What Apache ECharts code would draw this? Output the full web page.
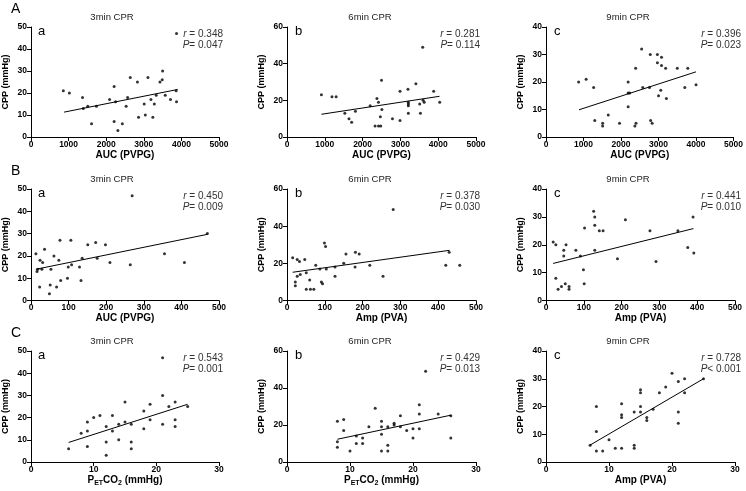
<!DOCTYPE html>
<html><head><meta charset="utf-8">
<script src="https://cdn.jsdelivr.net/npm/echarts/dist/echarts.min.js"></script>
<style>html,body{margin:0;padding:0;background:#fff}#c{width:746px;height:491px}</style>
</head><body><div id="c"></div>
<script>
// ---------- data (x, CPP) ----------
const A_a = [[860,21],[1020,20],[1370,18],[1390,13],[1510,14],[1740,14],[1610,6],[2090,17],[2210,23],[2250,16],[2210,7],[2310,3],[2430,6],[2530,14],[2570,18],[2640,27],[2830,25],[2860,9],[3010,15],[3040,10],[3110,27],[3190,17],[3240,9],[3280,15],[3330,19],[3430,25],[3490,26],[3500,30],[3570,19],[3710,17],[3860,21],[3870,16],[3870,47]];
const A_a_fit = [[880,11.3],[3900,21.6]];
const A_b = [[910,23],[1190,22],[1300,22],[1530,13],[1640,10],[1710,8],[1810,14],[2200,17],[2380,21],[2420,19],[2330,6],[2420,6],[2480,6],[2470,11],[2510,15],[2500,31],[2790,10],[2990,9],[2990,25],[3200,26],[3210,19],[3210,18],[3210,17],[3210,13],[3410,29],[3510,18],[3530,13],[3590,49],[3600,20],[3630,19],[3880,25],[4040,19]];
const A_b_fit = [[910,12.4],[4035,22.2]];
const A_c = [[870,20],[1070,21],[1270,18],[1300,6],[1510,5],[1510,4],[1660,8],[1960,5],[2190,20],[2190,16],[2230,16],[2190,11],[2390,25],[2370,4],[2400,5],[2550,32],[2580,18],[2760,18],[2790,6],[2830,5],[2780,30],[2970,30],[2970,27],[3080,29],[3080,26],[3190,25],[3000,15],[3060,17],[3210,14],[3500,25],[3780,25],[3700,18],[4000,19]];
const A_c_fit = [[880,9.9],[4000,23.7]];
const B_a = [[13,21],[16,13],[18,14],[24,18],[23,6],[31,17],[29,14],[36,23],[49,3],[51,7],[53,14],[61,20],[68,6],[74,18],[77,27],[79,9],[97,10],[99,15],[106,27],[108,16],[129,15],[133,9],[136,19],[151,25],[172,26],[176,19],[198,25],[210,17],[264,16],[269,47],[355,21],[408,17],[469,30]];
const B_a_fit = [[13,14],[470,29.7]];
const B_b = [[15,23],[22,10],[22,8],[27,22],[33,21],[27,13],[35,14],[47,22],[51,15],[51,6],[60,11],[62,6],[71,6],[76,19],[87,17],[91,10],[94,9],[99,31],[102,29],[104,17],[127,18],[127,13],[150,20],[156,25],[181,26],[180,18],[191,25],[219,19],[254,13],[281,49],[420,19],[429,26],[457,19]];
const B_b_fit = [[15,15.2],[430,27]];
const B_c = [[19,21],[26,20],[26,8],[32,4],[41,5],[47,18],[47,16],[51,6],[53,20],[61,5],[61,4],[79,18],[91,16],[99,11],[101,6],[102,26],[126,32],[129,30],[129,27],[129,18],[141,25],[151,25],[189,15],[210,29],[275,25],[291,14],[349,25],[375,19],[389,30],[391,17]];
const B_c_fit = [[19,13.3],[390,25.8]];
const C_a = [[6,6],[8,13],[9,18],[9,14],[9,7],[10,20],[11,21],[13,21],[12,16],[12,9],[12,3],[13,14],[14,17],[14,10],[15,18],[15,27],[16,17],[16,9],[16,6],[18,23],[18,15],[19,19],[19,26],[21,30],[21,17],[21,47],[22,25],[23,27],[23,19],[23,16],[25,25]];
const C_a_fit = [[6,8.8],[25,26]];
const C_b = [[8,22],[8,11],[8,8],[9,23],[9,17],[10,6],[11,14],[11,10],[12,13],[12,10],[13,19],[14,29],[15,22],[15,19],[15,15],[15,6],[16,19],[16,9],[16,6],[17,21],[17,20],[18,25],[18,19],[19,17],[20,18],[20,13],[21,31],[21,26],[21,18],[22,49],[24,26],[26,25],[26,13]];
const C_b_fit = [[8,12.3],[26,25.3]];
const C_c = [[7,6],[8,20],[8,11],[8,4],[9,4],[10,8],[11,5],[12,21],[12,17],[12,16],[12,5],[14,18],[14,6],[14,5],[15,26],[15,25],[15,20],[15,18],[16,16],[16,15],[17,19],[18,25],[19,27],[20,32],[21,29],[21,18],[21,14],[22,30],[22,25],[25,30]];
const C_c_fit = [[7,6.1],[25,30]];

// ---------- labels ----------
const rowLetters = ['A','B','C'];
const panelLetters = ['a','b','c'];
const titles = ['3min CPR','6min CPR','9min CPR'];
const yName = 'CPP (mmHg)';
const xNames = [
  ['AUC (PVPG)','AUC (PVPG)','AUC (PVPG)'],
  ['AUC (PVPG)','Amp (PVA)','Amp (PVA)'],
  ['P{s|ET}CO{s|2} (mmHg)','P{s|ET}CO{s|2} (mmHg)','Amp (PVA)']
];
const rVals = [['0.348','0.281','0.396'],['0.450','0.378','0.441'],['0.543','0.429','0.728']];
const pVals = [['= 0.047','= 0.114','= 0.023'],['= 0.009','= 0.030','= 0.010'],['= 0.001','= 0.013','< 0.001']];
// axis ranges [xMax, xInterval, yMax, yInterval]
const ranges = [
  [[5000,1000,50,10],[5000,1000,60,20],[5000,1000,40,10]],
  [[500,100,50,10],[500,100,60,20],[500,100,40,10]],
  [[30,10,50,10],[30,10,60,20],[30,10,40,10]]
];
const points = [[A_a,A_b,A_c],[B_a,B_b,B_c],[C_a,C_b,C_c]];
const fits = [[A_a_fit,A_b_fit,A_c_fit],[B_a_fit,B_b_fit,B_c_fit],[C_a_fit,C_b_fit,C_c_fit]];

// ---------- layout ----------
const FF = '"Liberation Sans", Arial, sans-serif';
const colLeft = [30, 287, 546], colW = 189;
const rowTop = [27, 189, 351], rowH = [110, 111.5, 111];
const rightEdge = [223, 480, 741];
const titleX = [112, 370, 628];

const grid = [], xAxis = [], yAxis = [], series = [], graphic = [];
for (let r = 0; r < 3; r++) {
  graphic.push({type:'text', x: 11, y: rowTop[r] - 25, style:{text: rowLetters[r], fontSize: 14, fontFamily: FF, fill:'#000', align:'left', verticalAlign:'top'}});
  for (let c = 0; c < 3; c++) {
    const i = r*3 + c;
    const [xMax, xInt, yMax, yInt] = ranges[r][c];
    grid.push({left: colLeft[c], top: rowTop[r], width: colW, height: rowH[r]});
    const axisCommon = {
      type:'value', min:0, splitLine:{show:false},
      axisLine:{show:true, onZero:false, lineStyle:{color:'#000', width:1}},
      axisTick:{show:true, length:4, lineStyle:{color:'#000', width:1}},
      axisLabel:{fontSize:8.5, fontWeight:'bold', color:'#000', fontFamily:FF, formatter: v => String(v)}
    };
    xAxis.push(Object.assign({}, axisCommon, {
      gridIndex:i, max:xMax, interval:xInt,
      name: xNames[r][c], nameLocation:'middle', nameGap:12,
      nameTextStyle:{fontSize:10, fontWeight:'bold', color:'#000', fontFamily:FF,
        rich:{s:{fontSize:7, fontWeight:'bold', color:'#000', fontFamily:FF, padding:[6,0,0,0]}}},
      axisLabel:Object.assign({}, axisCommon.axisLabel, {margin:3})
    }));
    yAxis.push(Object.assign({}, axisCommon, {
      gridIndex:i, max:yMax, interval:yInt,
      name: yName, nameLocation:'middle', nameGap:21,
      nameTextStyle:{fontSize:9, fontWeight:'bold', color:'#000', fontFamily:FF},
      axisLabel:Object.assign({}, axisCommon.axisLabel, {margin:4})
    }));
    series.push({type:'scatter', xAxisIndex:i, yAxisIndex:i, data: points[r][c],
      symbol:'circle', symbolSize:3, itemStyle:{color:'#000'}, silent:true});
    series.push({type:'line', xAxisIndex:i, yAxisIndex:i, data: fits[r][c],
      symbol:'none', lineStyle:{color:'#000', width:1}, silent:true});
    graphic.push({type:'text', x: titleX[c], y: rowTop[r] - 10, style:{text: titles[c], fontSize:9.5, fontFamily:FF, fill:'#222', align:'center', verticalAlign:'middle'}});
    graphic.push({type:'text', x: colLeft[c] + 8, y: rowTop[r] - 2, style:{text: panelLetters[c], fontSize:13, fontFamily:FF, fill:'#000', align:'left', verticalAlign:'top'}});
    graphic.push({type:'text', x: rightEdge[c], y: rowTop[r] + 2, style:{
      text: '{i|r} = ' + rVals[r][c], fontSize:10, fontFamily:FF, fill:'#333', align:'right', verticalAlign:'top',
      rich:{i:{fontStyle:'italic', fontSize:10, fontFamily:FF, fill:'#333'}}}});
    graphic.push({type:'text', x: rightEdge[c], y: rowTop[r] + 13, style:{
      text: '{i|P}' + pVals[r][c], fontSize:10, fontFamily:FF, fill:'#333', align:'right', verticalAlign:'top',
      rich:{i:{fontStyle:'italic', fontSize:10, fontFamily:FF, fill:'#333'}}}});
  }
}

const chart = echarts.init(document.getElementById('c'), null, {renderer:'canvas'});
chart.setOption({backgroundColor:'#fff', animation:false, grid, xAxis, yAxis, series, graphic});
</script>
</body></html>
